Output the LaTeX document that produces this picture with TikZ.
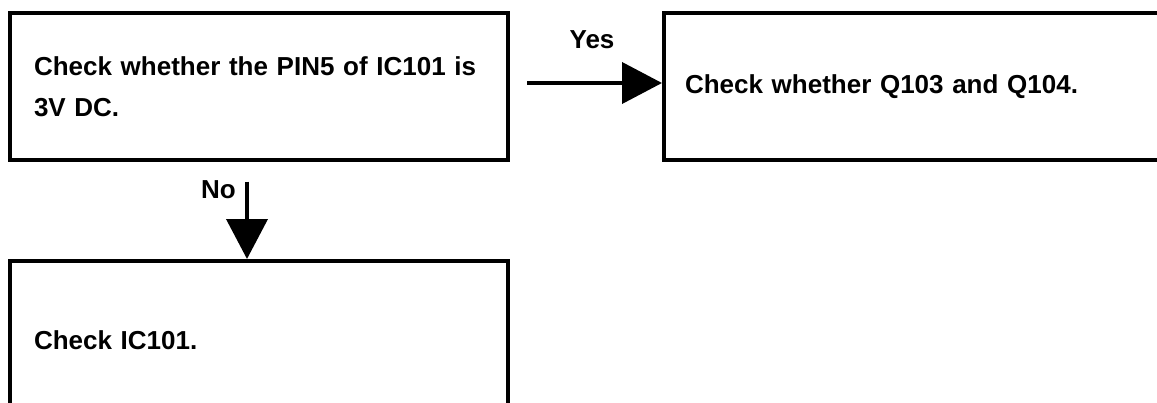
\documentclass[tikz,border=0pt]{standalone}
\usepackage{fontspec}
\setmainfont{Liberation Sans}
\usetikzlibrary{arrows.meta,positioning}
\tikzset{
  stepbox/.style={draw, line width=3pt, rectangle, inner ysep=0pt,
    inner xsep=18pt, align=left,
    font=\bfseries\fontsize{19.5}{30.75}\selectfont},
  flow/.style={line width=3pt, -{Triangle[length=30pt,width=30.75pt]}},
  lbl/.style={font=\bfseries\fontsize{19.5}{23}\selectfont, inner sep=0pt}
}
\begin{document}
\begin{tikzpicture}[x=0.75pt,y=-0.75pt]
  \useasboundingbox (0,0) rectangle (1157,403);
  % boxes
  \node[stepbox, minimum width=373.5pt, minimum height=110.25pt,
    text width=337.5pt] (pin5) at (259,86.5)
    {Check whether the PIN5 of IC101 is\\3V DC.};
  \node[stepbox, minimum width=379.5pt, minimum height=110.25pt,
    inner xsep=15.75pt, text width=348pt] (qcheck) at (917,86.5)
    {Check whether Q103 and Q104.};
  \node[stepbox, minimum width=373.5pt, minimum height=118.5pt,
    text width=337.5pt] (iccheck) at (259,340)
    {Check IC101.};
  % connectors
  \draw[flow] ([shift={(17,-3.5)}]pin5.east) coordinate (yesstart)
    -- ([shift={(0,-3.5)}]qcheck.west);
  \node[lbl] (yes) at ([shift={(65,-43)}]yesstart) {Yes};
  \draw[flow] ([shift={(-12,19.5)}]pin5.south) coordinate (nostart)
    -- ([shift={(-12,0)}]iccheck.north);
  \node[lbl, anchor=east] (no) at ([shift={(-11,8)}]nostart) {No};
\end{tikzpicture}
\end{document}
